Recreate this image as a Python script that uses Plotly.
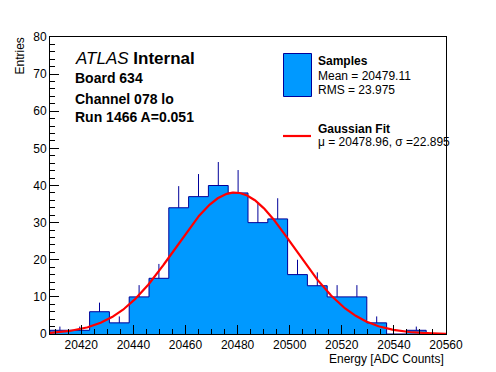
import numpy as np
import plotly.graph_objects as go

# ---- data ----
x_min = 20408.0
x_max = 20560.0
n_bins = 20
counts = [1, 1, 6, 3, 10, 15, 34, 37, 40, 38, 30, 31, 16, 13, 10, 10, 3, 0, 1, 0]
fit_mu = 20478.96
fit_sigma = 22.895
fit_amp = 38.1
x_ticks = [20420, 20440, 20460, 20480, 20500, 20520, 20540, 20560]
y_ticks = [0, 10, 20, 30, 40, 50, 60, 70, 80]

bw = (x_max - x_min) / n_bins
edges = [x_min + i * bw for i in range(n_bins + 1)]
centers = [x_min + (i + 0.5) * bw for i in range(n_bins)]
errs = [float(np.sqrt(c)) for c in counts]

FONT = "Liberation Sans, Arial, Helvetica, sans-serif"
FILL = "#0099ff"
EDGE = "#000099"

fig = go.Figure()

# histogram step with fill
sx = [edges[0]] + edges[:-1] + [edges[-1]]
sy = [0] + counts + [counts[-1]]
fig.add_trace(go.Scatter(x=sx, y=sy, mode="lines", line=dict(shape="hv", color=EDGE, width=1),
                         fill="tozeroy", fillcolor=FILL, hoverinfo="skip", showlegend=False))
# error bars (upper part visible)
fig.add_trace(go.Scatter(x=centers, y=counts, mode="markers",
                         marker=dict(size=1, color="rgba(0,0,0,0)"),
                         error_y=dict(type="data", symmetric=False, array=errs,
                                      arrayminus=[0] * n_bins, color=EDGE, thickness=1, width=0),
                         showlegend=False))
# gaussian fit
gx = np.linspace(x_min, x_max, 400)
gy = fit_amp * np.exp(-0.5 * ((gx - fit_mu) / fit_sigma) ** 2)
fig.add_trace(go.Scatter(x=gx, y=gy, mode="lines", line=dict(color="#ff0000", width=2.2),
                         showlegend=False))

L, R, T, B = 50, 50, 37, 38
W, H = 496, 372
pw, ph = W - L - R, H - T - B


def px(x):
    return (x - L) / pw


def py(y):
    return (H - B - y) / ph


fig.update_layout(
    width=W, height=H,
    margin=dict(l=L, r=R, t=T, b=B),
    paper_bgcolor="white", plot_bgcolor="white",
    font=dict(family=FONT, color="black", size=12),
    showlegend=False,
    xaxis=dict(range=[x_min, x_max], tickmode="array", tickvals=x_ticks,
               ticktext=[str(v) for v in x_ticks],
               ticks="inside", ticklen=9, tickcolor="black", tickwidth=1,
               minor=dict(dtick=5, tick0=20420, ticks="inside", ticklen=5, tickcolor="black", showgrid=False),
               showline=True, linecolor="black", linewidth=1, mirror=True,
               showgrid=False, zeroline=False, tickfont=dict(size=12, family=FONT)),
    yaxis=dict(range=[0, 80], tickmode="array", tickvals=y_ticks,
               ticks="inside", ticklen=9, tickcolor="black", tickwidth=1,
               minor=dict(dtick=2, tick0=0, ticks="inside", ticklen=5, tickcolor="black", showgrid=False),
               showline=True, linecolor="black", linewidth=1, mirror=True,
               showgrid=False, zeroline=False, tickfont=dict(size=12, family=FONT)),
)

ann = []
ann.append(dict(text="Entries", x=px(20), y=py(36), xref="paper", yref="paper", textangle=-90,
                xanchor="center", yanchor="top", showarrow=False, font=dict(size=12)))
ann.append(dict(text="Energy [ADC Counts]", x=px(446), y=py(359), xref="paper", yref="paper",
                xanchor="right", yanchor="middle", showarrow=False, font=dict(size=12)))
ann.append(dict(text="<i>ATLAS</i> <b>Internal</b>", x=px(73), y=py(58), xref="paper", yref="paper",
                xanchor="left", yanchor="middle", showarrow=False, font=dict(size=17)))
for txt, yy in [("Board 634", 78), ("Channel 078 lo", 99), ("Run 1466 A=0.051", 117)]:
    ann.append(dict(text="<b>%s</b>" % txt, x=px(73), y=py(yy), xref="paper", yref="paper",
                    xanchor="left", yanchor="middle", showarrow=False, font=dict(size=14)))
for txt, yy in [("<b>Samples</b>", 61), ("Mean = 20479.11", 76), ("RMS = 23.975", 90),
                ("<b>Gaussian Fit</b>", 129), ("\u03bc = 20478.96, \u03c3 =22.895", 142)]:
    ann.append(dict(text=txt, x=px(316), y=py(yy), xref="paper", yref="paper",
                    xanchor="left", yanchor="middle", showarrow=False, font=dict(size=12)))
fig.update_layout(annotations=ann)

fig.add_shape(type="rect", xref="paper", yref="paper", x0=px(283.5), x1=px(311.5),
              y0=py(96.5), y1=py(53.5), fillcolor=FILL, line=dict(color=EDGE, width=1))
fig.add_shape(type="line", xref="paper", yref="paper", x0=px(283), x1=px(311),
              y0=py(136), y1=py(136), line=dict(color="#ff0000", width=2.2))

fig.write_html("out.html", config={"displayModeBar": False},
               post_script="document.body.style.margin='0px';document.body.style.padding='0px';")
